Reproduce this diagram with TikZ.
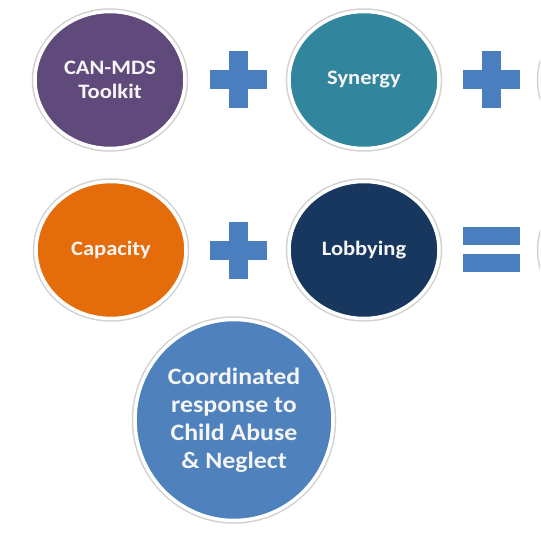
\documentclass[tikz,border=0pt]{standalone}
\usepackage{fontspec}
\setmainfont[FakeStretch=1.1]{Carlito}
\usetikzlibrary{shapes.geometric}
\definecolor{toolkitpurple}{HTML}{604A7B}
\definecolor{synergyteal}{HTML}{31859C}
\definecolor{capacityorange}{HTML}{E46C0A}
\definecolor{lobbyingnavy}{HTML}{17375E}
\definecolor{responseblue}{HTML}{4F81BD}
\definecolor{signblue}{HTML}{4A7EBF}
\begin{document}
\begin{tikzpicture}[x=1pt,y=-1pt,
    bubble/.style={ellipse,minimum width=150pt,minimum height=137pt,inner sep=0pt,
        fill=#1,draw=white,line width=3.5pt,preaction={draw=gray!35,line width=6.5pt},
        text=white!92!gray,align=center,font=\fontsize{20.5}{24}\selectfont\bfseries}]
    \useasboundingbox (0,0) rectangle (540,540);
    \clip (0,0) rectangle (540,540);
    % first row
    \node [bubble=toolkitpurple] (toolkit) at (110,80) {CAN-MDS\\Toolkit};
    \node [bubble=synergyteal] (synergy) at (364,80) {Synergy};
    \node [bubble=white] (rowoneend) at (615,80) {};
    % second row
    \node [bubble=capacityorange] (capacity) at (111,250) {Capacity};
    \node [bubble=lobbyingnavy] (lobbying) at (364,250) {Lobbying};
    \node [bubble=white] (rowtwoend) at (615,250) {};
    % result
    \node [bubble=responseblue,minimum width=198pt,minimum height=201pt,
        font=\fontsize{23.5}{28}\selectfont\bfseries] (response) at (234,420)
        {Coordinated\\response to\\Child Abuse\\\& Neglect};
    % plus and equals signs
    \foreach \px/\py in {238/80,491/80,238/250}{
        \fill [signblue] (\px-28.5,\py-9.5) rectangle (\px+28.5,\py+9.5);
        \fill [signblue] (\px-9.5,\py-28.5) rectangle (\px+9.5,\py+28.5);
    }
    \fill [signblue] (462.5,227) rectangle (519.5,245);
    \fill [signblue] (462.5,254) rectangle (519.5,272);
\end{tikzpicture}
\end{document}
